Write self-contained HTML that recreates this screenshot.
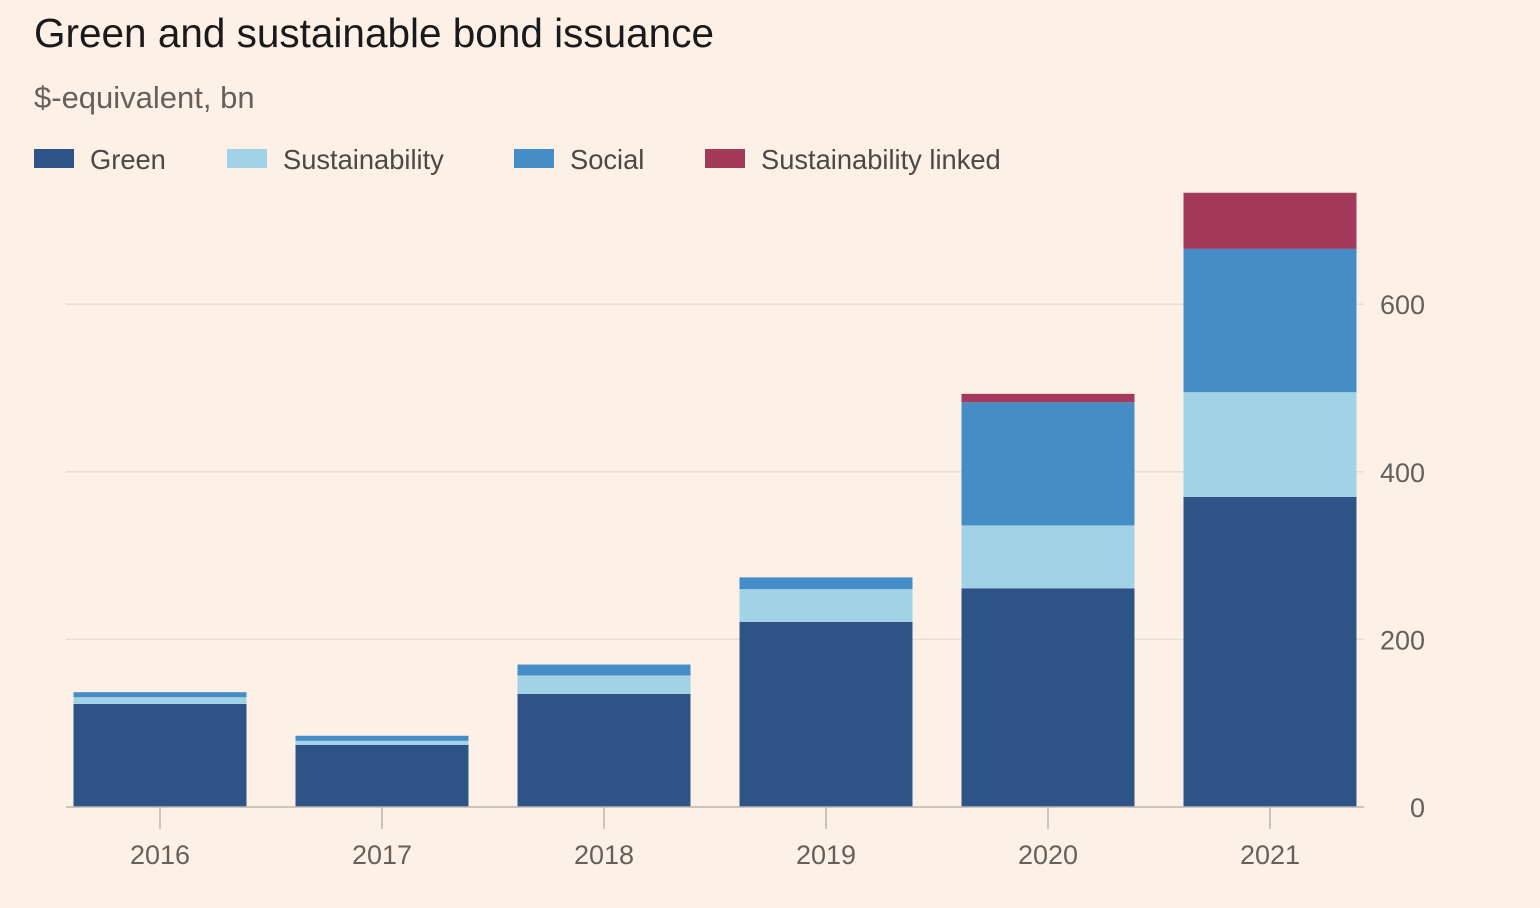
<!DOCTYPE html>
<html><head><meta charset="utf-8"><style>
body{margin:0;background:#fdf1e7;font-family:"Liberation Sans",sans-serif;}
svg{display:block}
</style></head><body>
<svg width="1540" height="908">
<rect width="1540" height="908" fill="#fdf1e7"/>
<text x="34" y="47" font-size="40.5" fill="#1a1a1a">Green and sustainable bond issuance</text>
<text x="34" y="108" font-size="31" fill="#66605c">$-equivalent, bn</text>
<g id="legend"></g>
<g id="grid"></g>
<g id="bars"></g>
<g id="axes"></g>
</svg>
<script>
const years=["2016","2017","2018","2019","2020","2021"];
const green=[123,74,135,221,261,370];
const sustainability=[8,5,22,39,75,125];
const social=[6,6,13,14,147,171];
const linked=[0,0,0,0,10,67];
const yTicks=[0,200,400,600];
const seriesNames=["Green","Sustainability","Social","Sustainability linked"];
const colors=["#2e5487","#a1d2e6","#458dc6","#a3395b"];
const NS="http://www.w3.org/2000/svg";
const y0=807,scale=0.838;
const y=v=>y0-v*scale;
const xc=i=>160+i*222;
const bw=173;
function mk(t,a,p){const e=document.createElementNS(NS,t);for(const k in a)e.setAttribute(k,a[k]);p.appendChild(e);return e;}
const grid=document.getElementById('grid'),bars=document.getElementById('bars'),axes=document.getElementById('axes'),legend=document.getElementById('legend');
yTicks.forEach(t=>{
 if(t>0){const l=mk('line',{x1:66,x2:1364,y1:y(t),y2:y(t),stroke:'#e8ddd3','stroke-width':1.5},grid);
 
 }
 const tx=mk('text',{x:1425,y:y(t)+10,'font-size':27,fill:'#66605c','text-anchor':'end'},axes);
 tx.textContent=t;
 
 
});
const series=[green,sustainability,social,linked];
years.forEach((yr,i)=>{
 let base=0;
 series.forEach((s,k)=>{
  const v=s[i];if(v<=0)return;
  const r=mk('rect',{x:xc(i)-bw/2,y:y(base+v),width:bw,height:v*scale,fill:colors[k]},bars);
  
  
  base+=v;
 });
 const tk=mk('line',{x1:xc(i),x2:xc(i),y1:y0,y2:y0+22,stroke:'#bdb5ae','stroke-width':1.5},axes);
 
 
 const tx=mk('text',{x:xc(i),y:864,'font-size':27,fill:'#66605c','text-anchor':'middle'},axes);
 tx.textContent=yr;
 
 
});
const bl=mk('line',{x1:66,x2:1364,y1:y0,y2:y0,stroke:'#bdb5ae','stroke-width':1.5},axes);


const lx=[34,227,514,705];
seriesNames.forEach((n,k)=>{
 const r=mk('rect',{x:lx[k],y:149,width:40,height:19,fill:colors[k]},legend);
 
 
 const t=mk('text',{x:lx[k]+56,y:169,'font-size':27.3,fill:'#4d4845'},legend);
 t.textContent=n;
 
 
});
</script>
</body></html>
